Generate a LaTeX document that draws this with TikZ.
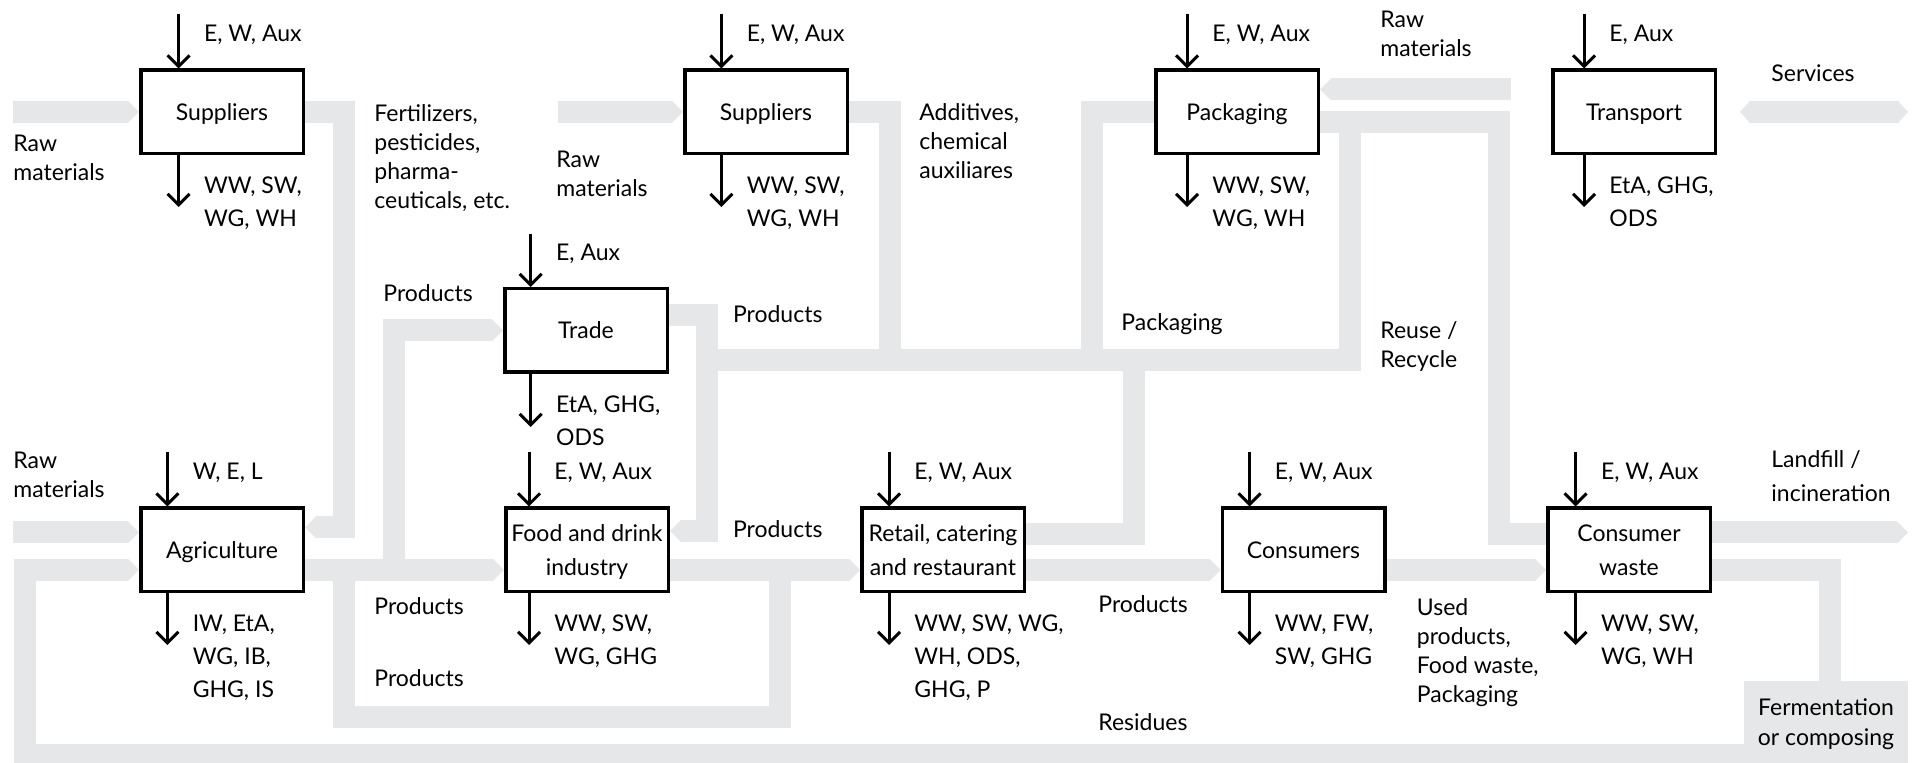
\documentclass[tikz,border=0pt]{standalone}
\usepackage{fontspec}
\setmainfont{Lato}
\usetikzlibrary{arrows.meta,calc,backgrounds}
\definecolor{pipegray}{HTML}{E6E7E8}

\begin{document}
\begin{tikzpicture}[
    x=0.5pt, y=-0.5pt, % one unit = one pixel of the layout, y runs downwards
    font=\fontsize{11.5}{14.5}\selectfont,
    proc/.style={draw, line width=1.75pt, fill=white, minimum width=81.25pt,
        minimum height=41.75pt, align=center, inner sep=0pt, text depth=0pt,
        font=\fontsize{11.5}{17}\selectfont},
    pipe/.style={draw=pipegray, line width=11pt},
    flow/.style={pipe, -{Triangle[length=5.5pt, width=11pt, line width=0pt]}},
    emis/.style={line width=1.5pt, -{Straight Barb[length=5.5pt, width=11pt]}},
    lab/.style={anchor=west, align=left, inner sep=0pt},
    emlab/.style={lab, font=\fontsize{11.5}{16.5}\selectfont}
]
    \useasboundingbox (0,0) rectangle (1913,763);
    \clip (0,0) rectangle (1913,763);

    % 1. Prozesse (obere Reihe)
    \node[proc] (sup1)  at (222,112)   {Suppliers};
    \node[proc] (sup2)  at (766,112)   {Suppliers};
    \node[proc] (pack)  at (1237,112)  {Packaging};
    \node[proc] (trans) at (1634,112)  {Transport};
    \node[proc] (trade) at (586,330.5) {Trade};
    % untere Reihe
    \node[proc] (agri)   at (222,550)    {Agriculture};
    \node[proc] (food)   at (587,550)    {Food and drink\\industry};
    \node[proc] (retail) at (943,550)    {Retail, catering\\and restaurant};
    \node[proc] (cons)   at (1303.5,550) {Consumers};
    \node[proc] (waste)  at (1629,550)   {Consumer\\waste};
    \node[fill=pipegray, minimum width=82pt, minimum height=41pt, align=center,
        inner sep=0pt, text depth=0pt, font=\fontsize{11.5}{15}\selectfont] (ferm) at (1826,722)
        {Fermentation\\or composing};

    % freie Enden der Stoffstroeme
    \coordinate (rawA)  at (13,112);
    \coordinate (rawB)  at (557.5,112);
    \coordinate (rawC)  at (1511,89.5);
    \coordinate (rawD)  at (13,532.5);
    \coordinate (srvL)  at (1740,112);
    \coordinate (srvR)  at (1908,112);
    \coordinate (landf) at (1908,532.5);
    \coordinate (jprod) at (394,570); % Abzweig Products -> Trade

    % 2. Stoffstroeme (graue Baender, hinter den Kaesten)
    \begin{pgfonlayer}{background}
        \draw[flow] (rawA) -- (sup1.west);
        \draw[flow] (rawB) -- (sup2.west);
        \draw[flow] (rawC) -- (pack.east |- rawC);
        \draw[flow] (rawD) -- (agri.west |- rawD);
        \draw[flow] (sup1.east) -- (344,112) -- (344,527.5) -- (agri.east |- 0,527.5);
        % Hauptkette
        \draw[flow] (agri.east |- jprod) -- (food.west |- jprod);
        \draw[flow] (jprod) -- (394,330.5) -- (trade.west);
        \draw[pipe] (344,570) -- (344,717) -- (779.5,717) -- (779.5,570);
        \draw[flow] (food.east |- jprod) -- (retail.west |- jprod);
        \draw[flow] (retail.east |- jprod) -- (cons.west |- jprod);
        \draw[flow] (cons.east |- jprod) -- (waste.west |- jprod);
        \draw[flow] (trade.east |- 0,315) -- (707,315) -- (707,531) -- (food.east |- 0,531);
        % Sammelleitung Zusatzstoffe / Verpackung
        \draw[pipe] (707,360.5) -- (1350,360.5) -- (1350,122.5) -- (pack.east |- 0,122.5);
        \draw[pipe] (sup2.east) -- (890,112) -- (890,360.5);
        \draw[pipe] (pack.west) -- (1092,112) -- (1092,360.5);
        \draw[pipe] (retail.east |- 0,534.5) -- (1134,534.5) -- (1134,360.5);
        \draw[pipe] (waste.west |- 0,534) -- (1499,534) -- (1499,122.5) -- (pack.east |- 0,122.5);
        % Transport
        \draw[pipe, {Triangle[length=5pt, width=11pt, line width=0pt]}-{Triangle[length=5pt, width=11pt, line width=0pt]}] (srvL) -- (srvR);
        % Entsorgung und Rueckfuehrung
        \draw[flow] (waste.east |- landf) -- (landf);
        \draw[pipe] (waste.east |- jprod) -- (1830,570) -- (1830,0 |- ferm.north);
        \draw[flow] (ferm.west |- 0,755) -- (24.5,755) -- (24.5,570) -- (agri.west |- jprod);
    \end{pgfonlayer}

    % 3. Inputs / Emissionen je Prozess: Kasten/Pfeil-x/oben/unten/Texte
    \foreach \b/\ax/\ty/\by/\tin/\tout in {
        sup1/178.6/14/207/{E, W, Aux}/{WW, SW,\\WG, WH},
        sup2/721.4/14/207/{E, W, Aux}/{WW, SW,\\WG, WH},
        pack/1187/14/207/{E, W, Aux}/{WW, SW,\\WG, WH},
        trans/1584/14/207/{E, Aux}/{EtA, GHG,\\ODS},
        trade/530.7/234/427/{E, Aux}/{EtA, GHG,\\ODS},
        agri/167.4/452/645/{W, E, L}/{IW, EtA,\\WG, IB,\\GHG, IS},
        food/529/452/645/{E, W, Aux}/{WW, SW,\\WG, GHG},
        retail/889/452/645/{E, W, Aux}/{WW, SW, WG,\\WH, ODS,\\GHG, P},
        cons/1249.5/452/645/{E, W, Aux}/{WW, FW,\\SW, GHG},
        waste/1575.6/452/645/{E, W, Aux}/{WW, SW,\\WG, WH}} {
        \coordinate (\b-in) at (\ax,\ty);
        \coordinate (\b-out) at (\ax,\by);
        \draw[emis] (\b-in) -- (\b-in |- \b.north);
        \draw[emis] (\b-out |- \b.south) -- (\b-out);
        \node[emlab, anchor=base west] (\b-tin) at ($(\b-in |- \b.north)+(25,-26.5)$) {\tin};
        \node[emlab, anchor=north west] (\b-tout) at ($(\b-out |- \b.south)+(25,21)$) {\tout};
    }

    % 4. Beschriftung der Stroeme
    \node[lab] (lrawA) at (13,157.5) {Raw\\materials};
    \node[lab] (lfert) at (374,158) {Fertilizers,\\pesticides,\\pharma-\\ceuticals, etc.};
    \node[lab] (lrawB) at (556,173.5) {Raw\\materials};
    \node[lab] (ladd)  at (919,141) {Additives,\\chemical\\auxiliares};
    \node[lab] (lrawC) at (1380,33.5) {Raw\\materials};
    \node[lab] (lserv) at (1771,73) {Services};
    \node[lab] (lprA)  at (383,293) {Products};
    \node[lab] (lprB)  at (732.6,314) {Products};
    \node[lab] (lpack) at (1121,324) {Packaging};
    \node[lab] (lreuse) at (1380,346.5) {Reuse /\\Recycle};
    \node[lab] (lrawD) at (13,475) {Raw\\materials};
    \node[lab, font=\fontsize{11.5}{17}\selectfont] (lland) at (1771,476) {Landfill /\\incineration};
    \node[lab] (lprC)  at (732.6,529) {Products};
    \node[lab] (lprD)  at (374,606.5) {Products};
    \node[lab] (lprE)  at (374,678) {Products};
    \node[lab] (lprF)  at (1098,604) {Products};
    \node[lab] (lres)  at (1098,722.5) {Residues};
    \node[lab] (lused) at (1416.5,653) {Used\\products,\\Food waste,\\Packaging};
\end{tikzpicture}
\end{document}
